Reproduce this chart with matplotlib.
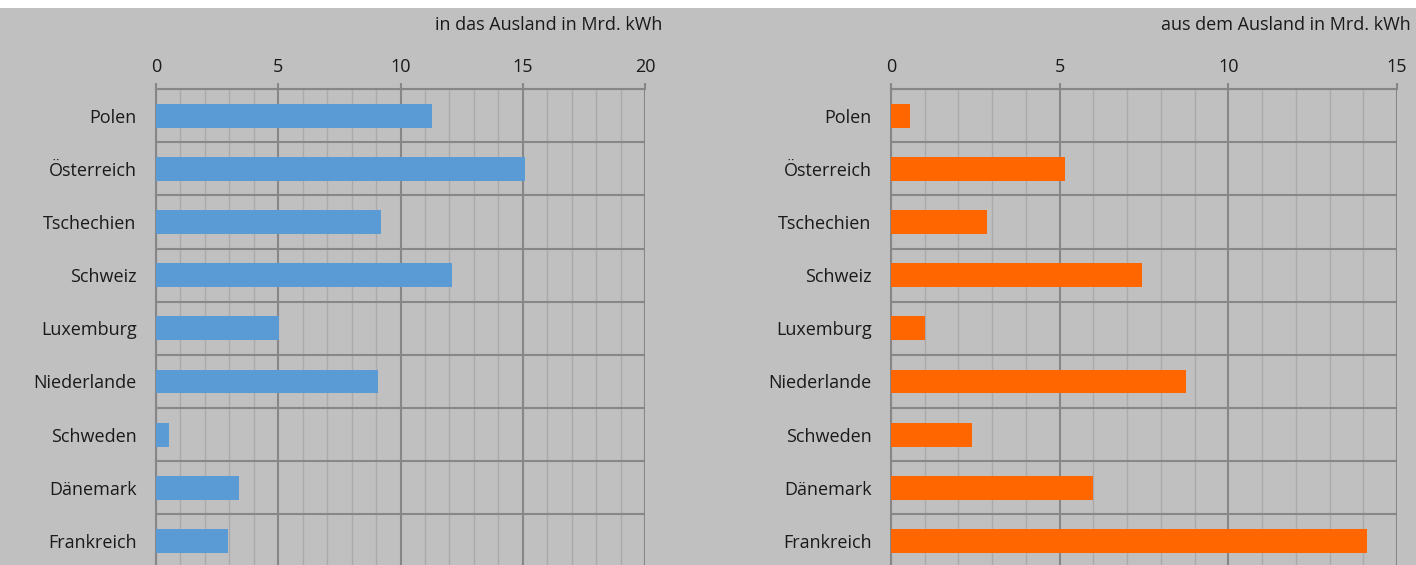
import matplotlib.pyplot as plt
from matplotlib.patches import Rectangle
from matplotlib.ticker import MultipleLocator

# countries, top to bottom
laender = ["Polen", "Österreich", "Tschechien", "Schweiz", "Luxemburg",
           "Niederlande", "Schweden", "Dänemark", "Frankreich"]

# exports / imports in Mrd. kWh
export_werte = [11.3, 15.1, 9.2, 12.1, 5.05, 9.1, 0.55, 3.4, 2.95]
import_werte = [0.55, 5.15, 2.85, 7.45, 1.0, 8.75, 2.4, 6.0, 14.1]

bg = "#c0c0c0"
major_col = "#878787"
minor_col = "#aaaaaa"
txt_col = "#1a1a1a"

plt.rcParams["font.family"] = ["Open Sans", "DejaVu Sans"]

fig = plt.figure(figsize=(14.16, 5.65), dpi=100, facecolor=bg)
# white strip on top
fig.patches.append(Rectangle((0, 1 - 8 / 565), 1, 8 / 565, transform=fig.transFigure,
                             facecolor="white", edgecolor="none", zorder=0))

W, H = 1416, 565
bottom = -2.6 / H
height = (565 + 2.6 - 89) / H


def draw(ax, werte, farbe, xmax, title, title_x):
    ypos = range(len(laender))
    ax.set_facecolor(bg)
    ax.barh(ypos, werte, height=0.45, color=farbe, zorder=3)
    ax.set_xlim(0, xmax)
    ax.set_ylim(len(laender) - 0.5, -0.5)
    ax.set_yticks(list(ypos))
    ax.set_yticklabels(laender)
    ax.xaxis.tick_top()
    ax.xaxis.set_major_locator(MultipleLocator(5))
    ax.xaxis.set_minor_locator(MultipleLocator(1))
    ax.yaxis.set_minor_locator(MultipleLocator(1, offset=0.5))
    ax.grid(which="major", axis="x", color=major_col, linewidth=1.5, zorder=1)
    ax.grid(which="minor", axis="x", color=minor_col, linewidth=1.0, zorder=1)
    ax.grid(which="minor", axis="y", color=major_col, linewidth=1.5, zorder=1)
    ax.tick_params(axis="x", which="major", length=4.5, width=1.5, color=major_col,
                   labelsize=13, labelcolor=txt_col, pad=5)
    ax.tick_params(axis="x", which="minor", length=0)
    ax.tick_params(axis="y", which="both", length=0, labelsize=13,
                   labelcolor=txt_col, pad=14)
    for s in ["right", "bottom"]:
        ax.spines[s].set_visible(False)
    for s in ["top", "left"]:
        ax.spines[s].set_color(major_col)
        ax.spines[s].set_linewidth(1.5)
    ax.set_axisbelow(True)
    fig.text(title_x, 1 - 25 / H, title, ha="right", va="center",
             fontsize=13, color=txt_col)


ax1 = fig.add_axes([156 / W, bottom, 489 / W, height])
draw(ax1, export_werte, "#5b9bd5", 20, "in das Ausland in Mrd. kWh", 662 / W)

ax2 = fig.add_axes([891 / W, bottom, 506 / W, height])
draw(ax2, import_werte, "#ff6600", 15, "aus dem Ausland in Mrd. kWh", 1411 / W)

fig.savefig("out.png", dpi=100, facecolor=bg)
